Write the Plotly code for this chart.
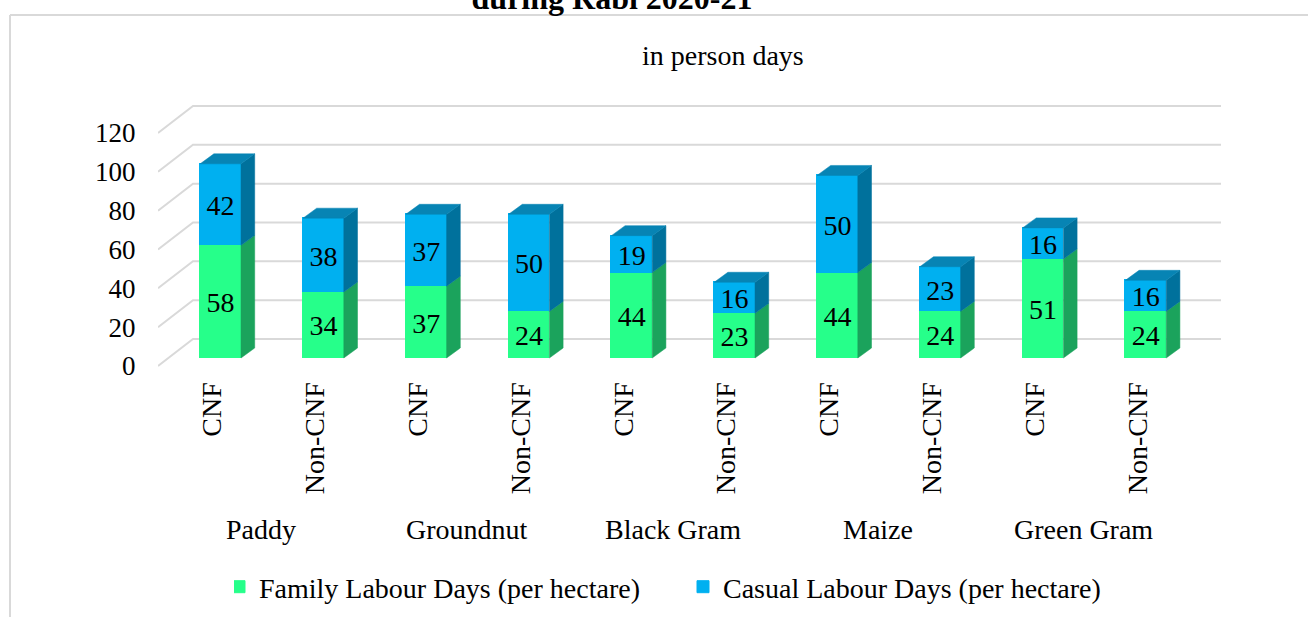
import plotly.graph_objects as go

crops = ["Paddy", "Groundnut", "Black Gram", "Maize", "Green Gram"]
farming = ["CNF", "Non-CNF"]
family_days = [58, 34, 37, 24, 44, 23, 44, 24, 51, 24]
casual_days = [42, 38, 37, 50, 19, 16, 50, 23, 16, 16]
y_ticks = [0, 20, 40, 60, 80, 100, 120]
bar_labels = [f for _ in crops for f in farming]

FONT = "Liberation Serif"
SIZE = 28
W, H = 1308, 617
L, R, T, B = 158, 1221, 96, 370      # plot box in px
PX_X = 102.8                         # px per category
PX_Y = 1.942                         # px per unit
GRID = "#d9d9d9"
GREEN, GREEN_SIDE = "#26FF8A", "#1BA35C"
BLUE, BLUE_SIDE, BLUE_TOP = "#00B0F0", "#00719C", "#0784B4"
BAR_W = 0.397
DX, DY = 13.7 / PX_X, 10 / PX_Y      # bar depth
WALL_DX, WALL_DY = 35 / PX_X, 27 / PX_Y  # wall depth
LABEL_DY = 3.5 / PX_Y                # data labels sit slightly below bar-segment centre

idx = list(range(len(family_days)))
x_lo = -0.5 - 3 / PX_X
x_hi = x_lo + (R - L) / PX_X
y_lo = -(B - 366) / PX_Y
y_hi = (366 - T) / PX_Y
SHIFT_X, SHIFT_Y = 8.2 / PX_X, 8 / PX_Y

fig = go.Figure()

# back wall gridlines and left-wall diagonals
gx, gy = [], []
for v in y_ticks:
    gx += [x_lo, x_lo + WALL_DX, x_hi, None]
    gy += [v, v + WALL_DY, v + WALL_DY, None]
fig.add_trace(go.Scatter(x=gx, y=gy, mode="lines", line=dict(color=GRID, width=2),
                         showlegend=False, hoverinfo="skip", xaxis="x", yaxis="y"))

fig.add_trace(go.Bar(x=idx, y=family_days, name="Family Labour Days (per hectare)",
                     marker=dict(color=GREEN, line=dict(color=GREEN, width=1)),
                     width=BAR_W, xaxis="x2", yaxis="y2"))
fig.add_trace(go.Bar(x=idx, y=casual_days, name="Casual Labour Days (per hectare)",
                     marker=dict(color=BLUE, line=dict(color=BLUE, width=1)),
                     width=BAR_W, xaxis="x2", yaxis="y2"))


def side(y0s, y1s, color):
    xs, ys = [], []
    for i, a, b in zip(idx, y0s, y1s):
        r = i + BAR_W / 2
        xs += [r, r + DX, r + DX, r, r, None]
        ys += [a, a + DY, b + DY, b, a, None]
    return go.Scatter(x=xs, y=ys, mode="lines", fill="toself", fillcolor=color,
                      line=dict(color=color, width=0.5), showlegend=False,
                      hoverinfo="skip", xaxis="x2", yaxis="y2")


totals = [a + b for a, b in zip(family_days, casual_days)]
fig.add_trace(side([0] * len(idx), family_days, GREEN_SIDE))
fig.add_trace(side(family_days, totals, BLUE_SIDE))

tx, ty = [], []
for i, t in zip(idx, totals):
    l, r = i - BAR_W / 2, i + BAR_W / 2
    tx += [l, l + DX, r + DX, r, l, None]
    ty += [t, t + DY, t + DY, t, t, None]
fig.add_trace(go.Scatter(x=tx, y=ty, mode="lines", fill="toself", fillcolor=BLUE_TOP,
                         line=dict(color=BLUE_TOP, width=0.5), showlegend=False,
                         hoverinfo="skip", xaxis="x2", yaxis="y2"))

# data labels
fig.add_trace(go.Scatter(x=idx, y=[f / 2 - LABEL_DY for f in family_days], mode="text",
                         text=family_days, textposition="middle center",
                         textfont=dict(family=FONT, size=SIZE, color="black"),
                         showlegend=False, hoverinfo="skip", xaxis="x2", yaxis="y2"))
fig.add_trace(go.Scatter(x=idx, y=[f + c / 2 - LABEL_DY for f, c in zip(family_days, casual_days)],
                         mode="text", text=casual_days, textposition="middle center",
                         textfont=dict(family=FONT, size=SIZE, color="black"),
                         showlegend=False, hoverinfo="skip", xaxis="x2", yaxis="y2"))


def px_x(p):
    return (p - L) / (R - L)


def px_y(p):
    return (B - p) / (B - T)


annotations = [
    dict(text="in person days", xref="paper", yref="paper", x=px_x(723), y=px_y(55),
         showarrow=False, xanchor="center", yanchor="middle",
         font=dict(family=FONT, size=SIZE, color="black")),
]
for k, c in enumerate(crops):
    annotations.append(dict(text=c, xref="x", yref="paper", x=2 * k + 0.5 - 2.5 / PX_X,
                            y=px_y(529), showarrow=False, xanchor="center", yanchor="middle",
                            font=dict(family=FONT, size=SIZE, color="black")))

border = dict(color=GRID, width=2)
shapes = [
    dict(type="line", xref="paper", yref="paper", x0=px_x(10), x1=px_x(W + 5),
         y0=px_y(15), y1=px_y(15), line=border),
    dict(type="line", xref="paper", yref="paper", x0=px_x(10), x1=px_x(10),
         y0=px_y(15), y1=px_y(H + 5), line=border),
]

fig.update_layout(
    width=W, height=H, autosize=False,
    margin=dict(l=L, r=W - R, t=T, b=H - B, pad=0, autoexpand=False),
    paper_bgcolor="white", plot_bgcolor="rgba(0,0,0,0)",
    barmode="stack", bargap=0,
    font=dict(family=FONT, size=SIZE, color="black"),
    title=dict(text="<b>during Rabi 2020-21</b>", x=612 / W, xanchor="center",
               y=0.985, yanchor="bottom", font=dict(family=FONT, size=32, color="black")),
    xaxis=dict(range=[x_lo, x_hi], tickmode="array", tickvals=idx, ticktext=bar_labels,
               tickangle=-90, ticks="outside", ticklen=0, tickcolor="rgba(0,0,0,0)",
               showgrid=False, zeroline=False, showline=False, automargin=False,
               tickfont=dict(family=FONT, size=SIZE, color="black")),
    yaxis=dict(range=[y_lo, y_hi], tickmode="array", tickvals=y_ticks,
               ticks="outside", ticklen=16, tickcolor="rgba(0,0,0,0)",
               showgrid=False, zeroline=False, showline=False, automargin=False,
               tickfont=dict(family=FONT, size=27, color="black")),
    xaxis2=dict(range=[x_lo - SHIFT_X, x_hi - SHIFT_X], overlaying="x", visible=False),
    yaxis2=dict(range=[y_lo - SHIFT_Y, y_hi - SHIFT_Y], overlaying="y", visible=False),
    legend=dict(orientation="h", x=px_x(234), y=px_y(587), xanchor="left", yanchor="middle",
                indentation=-15, entrywidth=434, entrywidthmode="pixels",
                traceorder="normal", font=dict(family=FONT, size=SIZE, color="black"),
                bgcolor="rgba(0,0,0,0)"),
    annotations=annotations, shapes=shapes,
)

fig.write_html("out.html", config={"displayModeBar": False},
               post_script="document.body.style.margin='0';")
